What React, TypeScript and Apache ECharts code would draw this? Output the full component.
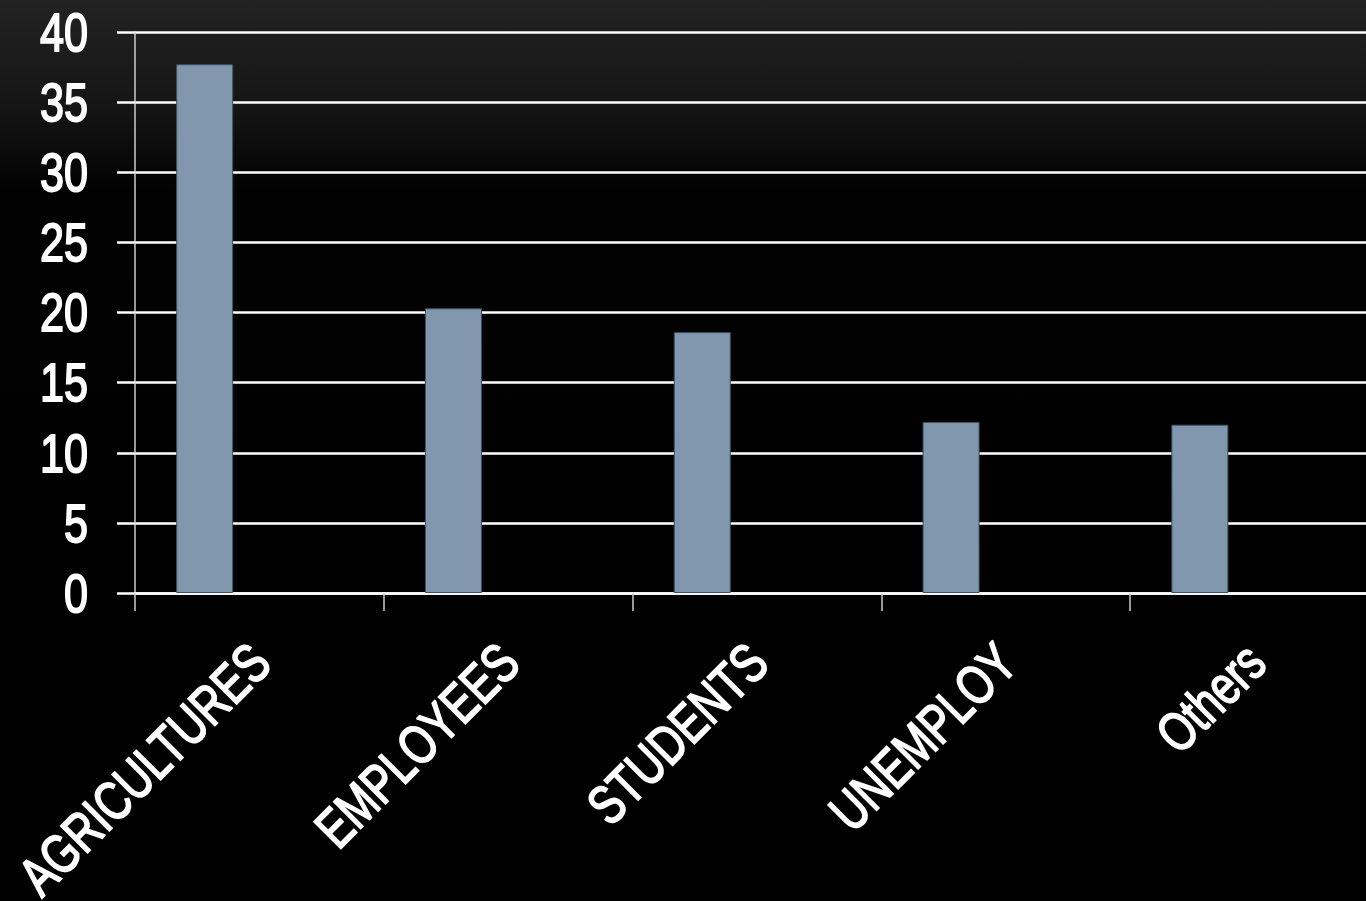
import React, { useEffect, useRef } from "react";
import * as echarts from "echarts";

const categories = ["AGRICULTURES", "EMPLOYEES", "STUDENTS", "UNEMPLOY", "Others"];
const values = [37.7, 20.3, 18.6, 12.2, 12.0];
const spacerValues = [null, null, null, null, null];
const yTickValues = [0, 5, 10, 15, 20, 25, 30, 35, 40];
const yTickLabels = ["0", "5", "10", "15", "20", "25", "30", "35", "40"];

const FONT = "'Liberation Sans', Arial, sans-serif";

export default function App() {
  const ref = useRef<HTMLDivElement>(null);
  useEffect(() => {
    if (!ref.current) return;
    const chart = echarts.init(ref.current, undefined, { renderer: "svg" });
    chart.setOption({
      animation: false,
      backgroundColor: {
        type: "linear",
        x: 0, y: 0, x2: 0, y2: 1,
        colorStops: [
          { offset: 0, color: "#232323" },
          { offset: 0.12, color: "#151515" },
          { offset: 0.21, color: "#020202" },
          { offset: 1, color: "#000000" },
        ],
      },
      grid: { left: 135, top: 32, bottom: 308, right: -13, containLabel: false, outerBoundsMode: "none" },
      xAxis: {
        type: "category",
        data: categories,
        boundaryGap: true,
        axisLine: { show: true, lineStyle: { color: "#ffffff", width: 2.5 } },
        axisTick: { show: true, interval: 0, length: 18, lineStyle: { color: "#cccccc", width: 1.5 } },
        axisLabel: { show: false },
        splitLine: { show: false },
      },
      yAxis: {
        type: "value",
        min: yTickValues[0],
        max: yTickValues[yTickValues.length - 1],
        interval: yTickValues[1] - yTickValues[0],
        axisLine: { show: true, lineStyle: { color: "#cccccc", width: 1.5 } },
        axisTick: { show: true, inside: false, length: 18, lineStyle: { color: "#ffffff", width: 2.5 } },
        axisLabel: { show: false },
        splitLine: { show: true, lineStyle: { color: "#ffffff", width: 2.5 } },
      },
      series: [
        {
          type: "bar",
          data: values,
          barWidth: 57,
          barGap: "92%",
          itemStyle: { color: "#8097AD", borderColor: "#3e5064", borderWidth: 1 },
        },
        {
          type: "bar",
          data: spacerValues,
          barWidth: 57,
          itemStyle: { color: "transparent" },
        },
      ],
    });

    const axisY = chart.convertToPixel({ yAxisIndex: 0 }, 0) as number;
    const axisX = chart.convertToPixel({ xAxisIndex: 0 }, categories[0]) as number;
    const halfBand =
      ((chart.convertToPixel({ xAxisIndex: 0 }, categories[1]) as number) - axisX) / 2;
    const leftEdge = axisX - halfBand;

    const graphics: any[] = [];
    yTickValues.forEach((v, i) => {
      graphics.push({
        type: "text",
        x: leftEdge - 47,
        y: chart.convertToPixel({ yAxisIndex: 0 }, v) as number,
        scaleX: 0.8,
        style: {
          text: yTickLabels[i],
          fill: "#ffffff",
          stroke: "#ffffff",
          lineWidth: 1.8,
          fontFamily: FONT,
          fontSize: 54,
          fontWeight: "normal",
          align: "right",
          verticalAlign: "middle",
        },
      });
    });
    categories.forEach((c) => {
      graphics.push({
        type: "text",
        x: (chart.convertToPixel({ xAxisIndex: 0 }, c) as number) + 1,
        y: axisY + 60,
        rotation: Math.PI / 4,
        scaleX: 0.77,
        style: {
          text: c,
          fill: "#ffffff",
          stroke: "#ffffff",
          lineWidth: 1.8,
          fontFamily: FONT,
          fontSize: 55,
          fontWeight: "normal",
          align: "right",
          verticalAlign: "middle",
        },
      });
    });
    chart.setOption({ graphic: graphics });

    return () => chart.dispose();
  }, []);
  return (
    <div
      ref={ref}
      style={{ position: "fixed", left: 0, top: 0, width: 1366, height: 901 }}
    />
  );
}
